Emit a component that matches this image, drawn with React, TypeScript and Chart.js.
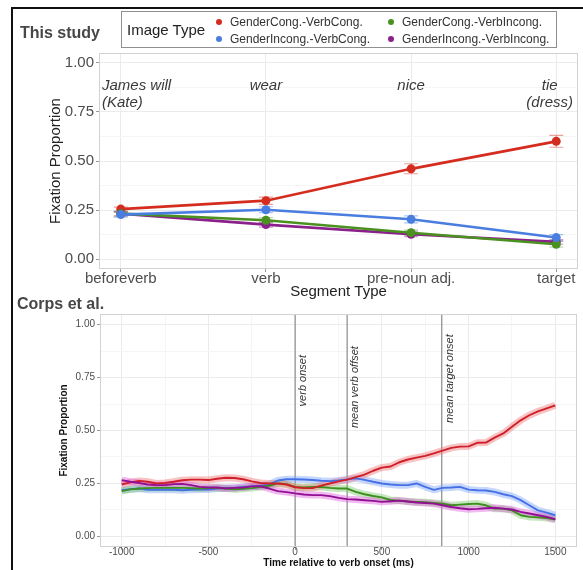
import React, { useEffect, useRef } from 'react';
import { Chart, registerables } from 'chart.js';

Chart.register(...registerables);

const FONT = "'Liberation Sans', Arial, Helvetica, sans-serif";

// ---------- Top panel ("This study") ----------
const SEGMENTS = ['beforeverb', 'verb', 'pre-noun adj.', 'target'];
const SEGMENT_POS = [0, 1, 2, 3];
const PROP_TICKS = [0, 0.125, 0.25, 0.375, 0.5, 0.625, 0.75, 0.875, 1];
const PROP_MAJOR = [0, 0.25, 0.5, 0.75, 1];

const SERIES_NAMES = [
  'GenderCong.-VerbCong.',
  'GenderIncong.-VerbCong.',
  'GenderCong.-VerbIncong.',
  'GenderIncong.-VerbIncong.',
];
const TOP_COLORS = ['#d42c1e', '#4a7de0', '#4a9120', '#8b1f8b'];
const TOP_ERR_COLORS = [
  'rgba(212,44,30,0.45)',
  'rgba(74,125,224,0.45)',
  'rgba(74,145,32,0.45)',
  'rgba(139,31,139,0.45)',
];

const STUDY_GC_VC = [0.255, 0.298, 0.46, 0.6];
const STUDY_GC_VC_LO = [0.24, 0.279, 0.435, 0.57];
const STUDY_GC_VC_HI = [0.265, 0.316, 0.486, 0.631];

const STUDY_GI_VC = [0.227, 0.252, 0.203, 0.11];
const STUDY_GI_VC_LO = [0.214, 0.237, 0.185, 0.095];
const STUDY_GI_VC_HI = [0.24, 0.267, 0.221, 0.125];

const STUDY_GC_VI = [0.232, 0.198, 0.135, 0.076];
const STUDY_GC_VI_LO = [0.22, 0.185, 0.122, 0.062];
const STUDY_GC_VI_HI = [0.244, 0.211, 0.148, 0.09];

const STUDY_GI_VI = [0.232, 0.176, 0.127, 0.088];
const STUDY_GI_VI_LO = [0.22, 0.163, 0.115, 0.076];
const STUDY_GI_VI_HI = [0.244, 0.189, 0.139, 0.1];

const WORD_ANNOTATIONS = [
  { at: 0, lines: ['James will', '(Kate)'], align: 'left' },
  { at: 1, lines: ['wear'], align: 'center' },
  { at: 2, lines: ['nice'], align: 'center' },
  { at: 3, lines: ['tie', '(dress)'], align: 'inward' },
];
const WORD_Y = 0.882;

// ---------- Bottom panel ("Corps et al.") ----------
const TIME_MS = [
  -1000, -950, -900, -850, -800, -750, -700, -650, -600, -550,
  -500, -450, -400, -350, -300, -250, -200, -150, -100, -50,
  0, 50, 100, 150, 200, 250, 300, 350, 400, 450,
  500, 550, 600, 650, 700, 750, 800, 850, 900, 950,
  1000, 1050, 1100, 1150, 1200, 1250, 1300, 1350, 1400, 1450, 1500,
];
const TIME_TICKS = [-1000, -750, -500, -250, 0, 250, 500, 750, 1000, 1250, 1500];
const TIME_MAJOR = [-1000, -500, 0, 500, 1000, 1500];

const CORPS_GC_VC = [
  0.245, 0.255, 0.262, 0.258, 0.25, 0.252, 0.258, 0.265, 0.268, 0.268,
  0.266, 0.272, 0.277, 0.276, 0.27, 0.26, 0.252, 0.25, 0.25, 0.245,
  0.232, 0.228, 0.228, 0.24, 0.25, 0.26, 0.268, 0.28, 0.292, 0.31,
  0.325, 0.33, 0.35, 0.363, 0.372, 0.38, 0.392, 0.405, 0.418, 0.424,
  0.425, 0.442, 0.443, 0.466, 0.486, 0.518, 0.548, 0.572, 0.59, 0.604, 0.619,
];
const CORPS_GI_VC = [
  0.218, 0.223, 0.226, 0.22, 0.22, 0.221, 0.22, 0.218, 0.22, 0.221,
  0.221, 0.226, 0.229, 0.229, 0.233, 0.236, 0.239, 0.245, 0.264, 0.27,
  0.27, 0.269, 0.266, 0.263, 0.261, 0.264, 0.269, 0.274, 0.267, 0.258,
  0.25, 0.245, 0.242, 0.242, 0.25, 0.234, 0.22, 0.229, 0.231, 0.234,
  0.221, 0.218, 0.217, 0.21, 0.199, 0.19, 0.171, 0.147, 0.123, 0.112, 0.1,
];
const CORPS_GC_VI = [
  0.214, 0.222, 0.226, 0.228, 0.229, 0.229, 0.229, 0.229, 0.228, 0.226,
  0.228, 0.228, 0.226, 0.222, 0.225, 0.228, 0.233, 0.239, 0.25, 0.247,
  0.234, 0.231, 0.234, 0.233, 0.229, 0.226, 0.226, 0.21, 0.199, 0.191,
  0.184, 0.172, 0.169, 0.165, 0.163, 0.161, 0.158, 0.155, 0.147, 0.15,
  0.153, 0.155, 0.147, 0.131, 0.131, 0.123, 0.1, 0.092, 0.09, 0.087, 0.079,
];
const CORPS_GI_VI = [
  0.266, 0.258, 0.252, 0.245, 0.242, 0.242, 0.247, 0.248, 0.242, 0.234,
  0.231, 0.231, 0.226, 0.229, 0.231, 0.236, 0.237, 0.226, 0.214, 0.209,
  0.203, 0.198, 0.195, 0.195, 0.19, 0.182, 0.176, 0.174, 0.171, 0.168,
  0.163, 0.166, 0.169, 0.165, 0.16, 0.158, 0.155, 0.147, 0.139, 0.133,
  0.128, 0.13, 0.133, 0.135, 0.131, 0.127, 0.116, 0.108, 0.1, 0.092, 0.081,
];

const BOTTOM_COLORS = ['#cf1f2a', '#4670e6', '#3d8f1f', '#930f93'];
const BOTTOM_RIBBONS = [
  'rgba(240,120,120,0.45)',
  'rgba(120,160,250,0.42)',
  'rgba(120,200,100,0.42)',
  'rgba(220,90,220,0.42)',
];

const EVENT_MS = [0, 300, 845];
const EVENT_LABELS = ['verb onset', 'mean verb offset', 'mean target onset'];
const EVENT_LABEL_Y = [0.735, 0.705, 0.745];

// ---------- helpers ----------
const isMajor = (list: number[], v: number) => list.some((m) => Math.abs(m - v) < 1e-9);

const panelBorder = {
  id: 'panelBorder',
  afterDatasetsDraw(chart: any) {
    const { ctx, chartArea: a } = chart;
    ctx.save();
    ctx.strokeStyle = '#d2d2d2';
    ctx.lineWidth = 1;
    ctx.strokeRect(a.left + 0.5, a.top + 0.5, a.right - a.left - 1, a.bottom - a.top - 1);
    ctx.restore();
  },
};

const errorBars = {
  id: 'errorBars',
  beforeDatasetsDraw(chart: any) {
    const { ctx } = chart;
    const ys = chart.scales.y;
    chart.data.datasets.forEach((ds: any, di: number) => {
      if (!ds.errLo) return;
      const meta = chart.getDatasetMeta(di);
      ctx.save();
      ctx.strokeStyle = ds.errColor;
      ctx.lineWidth = 1.2;
      meta.data.forEach((pt: any, i: number) => {
        const x = pt.x;
        const y1 = ys.getPixelForValue(ds.errLo[i]);
        const y2 = ys.getPixelForValue(ds.errHi[i]);
        ctx.beginPath();
        ctx.moveTo(x, y1);
        ctx.lineTo(x, y2);
        ctx.moveTo(x - 7, y1);
        ctx.lineTo(x + 7, y1);
        ctx.moveTo(x - 7, y2);
        ctx.lineTo(x + 7, y2);
        ctx.stroke();
      });
      ctx.restore();
    });
  },
};

const wordLabels = {
  id: 'wordLabels',
  afterDatasetsDraw(chart: any) {
    const { ctx, chartArea: a } = chart;
    const xs = chart.scales.x;
    const ys = chart.scales.y;
    ctx.save();
    ctx.font = `italic 15px ${FONT}`;
    ctx.fillStyle = '#3a3a3a';
    ctx.textBaseline = 'middle';
    const y0 = ys.getPixelForValue(WORD_Y);
    WORD_ANNOTATIONS.forEach((w) => {
      const xp = xs.getPixelForValue(w.at);
      const widest = Math.max(...w.lines.map((l) => ctx.measureText(l).width));
      w.lines.forEach((line, li) => {
        const y = y0 + li * 17;
        if (w.align === 'left') {
          ctx.textAlign = 'left';
          ctx.fillText(line, a.left + 3, y);
        } else if (w.align === 'inward') {
          ctx.textAlign = 'center';
          const cx = Math.min(xp, a.right - 5 - widest / 2);
          ctx.fillText(line, cx, y);
        } else {
          ctx.textAlign = 'center';
          ctx.fillText(line, xp, y);
        }
      });
    });
    ctx.restore();
  },
};

const eventLines = {
  id: 'eventLines',
  beforeDatasetsDraw(chart: any) {
    const { ctx, chartArea: a } = chart;
    const xs = chart.scales.x;
    const ys = chart.scales.y;
    ctx.save();
    EVENT_MS.forEach((t, i) => {
      const x = xs.getPixelForValue(t);
      ctx.strokeStyle = '#9a9a9a';
      ctx.lineWidth = 1.4;
      ctx.beginPath();
      ctx.moveTo(x, a.top);
      ctx.lineTo(x, a.bottom);
      ctx.stroke();
      ctx.save();
      ctx.translate(x + 8, ys.getPixelForValue(EVENT_LABEL_Y[i]));
      ctx.rotate(-Math.PI / 2);
      ctx.font = `italic 11px ${FONT}`;
      ctx.fillStyle = '#333';
      ctx.textAlign = 'center';
      ctx.textBaseline = 'middle';
      ctx.fillText(EVENT_LABELS[i], 0, 0);
      ctx.restore();
    });
    ctx.restore();
  },
};

function buildTop(canvas: HTMLCanvasElement) {
  const values = [STUDY_GC_VC, STUDY_GI_VC, STUDY_GC_VI, STUDY_GI_VI];
  const los = [STUDY_GC_VC_LO, STUDY_GI_VC_LO, STUDY_GC_VI_LO, STUDY_GI_VI_LO];
  const his = [STUDY_GC_VC_HI, STUDY_GI_VC_HI, STUDY_GC_VI_HI, STUDY_GI_VI_HI];
  const order = [3, 0, 1, 2];
  const datasets = values.map((vals, i) => ({
    label: SERIES_NAMES[i],
    data: vals.map((v, k) => ({ x: SEGMENT_POS[k], y: v })),
    borderColor: TOP_COLORS[i],
    backgroundColor: TOP_COLORS[i],
    pointBackgroundColor: TOP_COLORS[i],
    pointBorderWidth: 0,
    pointRadius: 4.5,
    borderWidth: 2.6,
    errLo: los[i],
    errHi: his[i],
    errColor: TOP_ERR_COLORS[i],
    order: order[i],
  }));
  return new Chart(canvas, {
    type: 'line',
    data: { datasets } as any,
    plugins: [errorBars, panelBorder, wordLabels],
    options: {
      animation: false,
      responsive: false,
      events: [],
      layout: { padding: { left: 47, top: 53, right: 5, bottom: 269 } },
      plugins: { legend: { display: false }, tooltip: { enabled: false } },
      scales: {
        x: {
          type: 'linear',
          min: -0.15,
          max: 3.15,
          afterBuildTicks: (s: any) => {
            s.ticks = SEGMENT_POS.map((v) => ({ value: v }));
          },
          afterFit: (s: any) => {
            s.height = 32;
          },
          ticks: {
            autoSkip: false,
            maxRotation: 0,
            padding: -2,
            color: '#4d4d4d',
            font: { family: FONT, size: 15 },
            callback: (v: any) => SEGMENTS[SEGMENT_POS.indexOf(v)] ?? '',
          },
          grid: { color: '#ebebeb', tickLength: 3, tickColor: '#9a9a9a' },
          border: { display: false },
          title: {
            display: true,
            text: 'Segment Type',
            color: '#222',
            padding: 0,
            font: { family: FONT, size: 15 },
          },
        },
        y: {
          type: 'linear',
          min: -0.05,
          max: 1.05,
          afterBuildTicks: (s: any) => {
            s.ticks = PROP_TICKS.map((v) => ({ value: v }));
          },
          afterFit: (s: any) => {
            s.width = 52;
          },
          ticks: {
            autoSkip: false,
            padding: 2,
            color: '#4d4d4d',
            font: { family: FONT, size: 15 },
            callback: (v: any) => (isMajor(PROP_MAJOR, v) ? Number(v).toFixed(2) : ''),
          },
          grid: {
            tickLength: 3,
            color: (c: any) => (c.tick && isMajor(PROP_MAJOR, c.tick.value) ? '#ebebeb' : '#f5f5f5'),
            tickColor: (c: any) => (c.tick && isMajor(PROP_MAJOR, c.tick.value) ? '#9a9a9a' : 'rgba(0,0,0,0)'),
          },
          border: { display: false },
          title: {
            display: true,
            text: 'Fixation Proportion',
            color: '#222',
            padding: 0,
            font: { family: FONT, size: 15 },
          },
        },
      },
    } as any,
  });
}

function buildBottom(canvas: HTMLCanvasElement) {
  const series = [CORPS_GC_VC, CORPS_GI_VC, CORPS_GC_VI, CORPS_GI_VI];
  const lineOrder = [1, 3, 2, 0];
  const datasets: any[] = [];
  series.forEach((vals, i) => {
    const pts = vals.map((v, k) => ({ x: TIME_MS[k], y: v }));
    datasets.push({
      label: SERIES_NAMES[i] + ' (ribbon)',
      data: pts,
      borderColor: BOTTOM_RIBBONS[i],
      borderWidth: 7,
      pointRadius: 0,
      borderJoinStyle: 'round',
      order: 10 + lineOrder[i],
    });
    datasets.push({
      label: SERIES_NAMES[i],
      data: pts,
      borderColor: BOTTOM_COLORS[i],
      borderWidth: 1.9,
      pointRadius: 0,
      borderJoinStyle: 'round',
      order: lineOrder[i],
    });
  });
  return new Chart(canvas, {
    type: 'line',
    data: { datasets },
    plugins: [eventLines, panelBorder],
    options: {
      animation: false,
      responsive: false,
      events: [],
      layout: { padding: { left: 58, top: 314, right: 6, bottom: 1 } },
      plugins: { legend: { display: false }, tooltip: { enabled: false } },
      scales: {
        x: {
          type: 'linear',
          min: -1125,
          max: 1625,
          afterBuildTicks: (s: any) => {
            s.ticks = TIME_TICKS.map((v) => ({ value: v }));
          },
          afterFit: (s: any) => {
            s.height = 22;
          },
          ticks: {
            autoSkip: false,
            maxRotation: 0,
            padding: -4,
            color: '#4d4d4d',
            font: { family: FONT, size: 10 },
            callback: (v: any) => (isMajor(TIME_MAJOR, v) ? String(v) : ''),
          },
          grid: {
            tickLength: 3,
            color: (c: any) => (c.tick && isMajor(TIME_MAJOR, c.tick.value) ? '#ebebeb' : '#f5f5f5'),
            tickColor: (c: any) => (c.tick && isMajor(TIME_MAJOR, c.tick.value) ? '#9a9a9a' : 'rgba(0,0,0,0)'),
          },
          border: { display: false },
          title: {
            display: true,
            text: 'Time relative to verb onset (ms)',
            color: '#111',
            padding: 0,
            font: { family: FONT, size: 10, weight: 'bold' },
          },
        },
        y: {
          type: 'linear',
          min: -0.05,
          max: 1.05,
          afterBuildTicks: (s: any) => {
            s.ticks = PROP_TICKS.map((v) => ({ value: v }));
          },
          afterFit: (s: any) => {
            s.width = 42;
          },
          ticks: {
            autoSkip: false,
            padding: 2,
            color: '#4d4d4d',
            font: { family: FONT, size: 10 },
            callback: (v: any) => (isMajor(PROP_MAJOR, v) ? Number(v).toFixed(2) : ''),
          },
          grid: {
            tickLength: 3,
            color: (c: any) => (c.tick && isMajor(PROP_MAJOR, c.tick.value) ? '#ebebeb' : '#f5f5f5'),
            tickColor: (c: any) => (c.tick && isMajor(PROP_MAJOR, c.tick.value) ? '#9a9a9a' : 'rgba(0,0,0,0)'),
          },
          border: { display: false },
          title: {
            display: true,
            text: 'Fixation Proportion',
            color: '#111',
            padding: 0,
            font: { family: FONT, size: 10, weight: 'bold' },
          },
        },
      },
    } as any,
  });
}

const abs = (s: React.CSSProperties): React.CSSProperties => ({ position: 'absolute', ...s });

export default function App() {
  const topRef = useRef<HTMLCanvasElement>(null);
  const botRef = useRef<HTMLCanvasElement>(null);

  useEffect(() => {
    const a = buildTop(topRef.current!);
    const b = buildBottom(botRef.current!);
    return () => {
      a.destroy();
      b.destroy();
    };
  }, []);

  const legendItems = [
    { name: SERIES_NAMES[0], color: TOP_COLORS[0], x: 97, y: 10 },
    { name: SERIES_NAMES[1], color: TOP_COLORS[1], x: 97, y: 27 },
    { name: SERIES_NAMES[2], color: TOP_COLORS[2], x: 269, y: 10 },
    { name: SERIES_NAMES[3], color: TOP_COLORS[3], x: 269, y: 27 },
  ];

  return (
    <div
      style={{
        position: 'fixed',
        left: 0,
        top: 0,
        width: 583,
        height: 570,
        background: '#fff',
        overflow: 'hidden',
        fontFamily: FONT,
      }}
    >
      <div
        style={abs({
          left: 11,
          top: 7,
          width: 600,
          height: 600,
          borderLeft: '2px solid #111',
          borderTop: '2px solid #111',
        })}
      />
      <canvas ref={topRef} width={583} height={570} style={abs({ left: 0, top: 0 })} />
      <canvas ref={botRef} width={583} height={570} style={abs({ left: 0, top: 0 })} />
      <div style={abs({ left: 20, top: 23, height: 20, lineHeight: '20px', fontSize: 16, fontWeight: 'bold', color: '#474747', whiteSpace: 'nowrap' })}>
        This study
      </div>
      <div style={abs({ left: 17, top: 294, height: 20, lineHeight: '20px', fontSize: 16, fontWeight: 'bold', color: '#474747', whiteSpace: 'nowrap' })}>
        Corps et al.
      </div>
      <div
        style={abs({
          left: 121,
          top: 11,
          width: 436,
          height: 37,
          boxSizing: 'border-box',
          border: '1px solid #8f8f8f',
          background: '#fff',
        })}
      >
        <div style={abs({ left: 5, top: 8, height: 20, lineHeight: '20px', fontSize: 15, color: '#222', whiteSpace: 'nowrap' })}>
          Image Type
        </div>
        {legendItems.map((it) => (
          <React.Fragment key={it.name}>
            <div
              style={abs({
                left: it.x - 3,
                top: it.y - 3,
                width: 6,
                height: 6,
                borderRadius: '50%',
                background: it.color,
              })}
            />
            <div
              style={abs({
                left: it.x + 11,
                top: it.y - 8,
                height: 16,
                lineHeight: '16px',
                fontSize: 12,
                color: '#333',
                whiteSpace: 'nowrap',
              })}
            >
              {it.name}
            </div>
          </React.Fragment>
        ))}
      </div>
    </div>
  );
}
